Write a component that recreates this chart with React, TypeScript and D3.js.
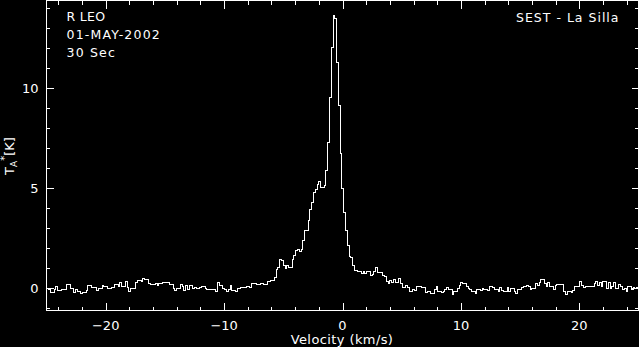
import { useEffect, useRef } from 'react';
import * as d3 from 'd3';

// velocity grid of the spectrometer (km/s)
const channelStart = -25.1;
const channelWidth = 0.15;

// antenna temperature per channel (K)
const antennaTemp = [
  -0.03, -0.03, -0.11, -0.25, -0.25, -0.08, 0.05, -0.15, -0.15, -0.11,
  -0.11, -0.11, 0.17, 0.17, -0.03, -0.03, -0.25, -0.08, -0.18, -0.18,
  -0.31, -0.25, -0.25, -0.15, 0.1, 0.1, 0.02, 0.02, 0.02, -0.15,
  -0.03, -0.03, 0.1, 0.08, 0.08, -0.03, -0.03, 0.02, 0.02, 0.17,
  0.17, 0.05, 0.25, 0.05, 0.05, 0.32, 0.02, -0.21, -0.03, -0.03,
  -0.03, 0.25, 0.38, 0.38, 0.32, 0.47, 0.42, 0.42, 0.22, 0.17,
  0.17, 0.17, 0.22, 0.13, 0.22, 0.22, 0.27, 0.27, 0.27, 0.27,
  0.17, 0.17, -0.05, -0.15, -0.05, -0.05, 0.17, 0.05, -0.15, 0.13,
  -0.11, 0.13, 0.13, -0.05, 0.0, -0.05, -0.05, 0.0, 0.05, 0.05,
  -0.03, -0.11, -0.11, -0.08, -0.11, -0.11, -0.18, 0.27, 0.13, 0.13,
  -0.03, -0.08, -0.18, -0.11, 0.13, -0.15, -0.15, -0.18, -0.03, -0.03,
  0.0, 0.0, 0.0, 0.05, 0.05, 0.0, 0.22, 0.22, 0.22, 0.17,
  0.17, 0.22, 0.22, 0.15, 0.15, 0.3, 0.3, 0.38, 0.38, 0.52,
  0.92, 1.02, 1.42, 1.35, 1.13, 0.97, 1.13, 1.02, 1.02, 1.42,
  1.63, 1.88, 1.92, 1.83, 1.92, 2.38, 2.88, 2.88, 3.38, 3.91,
  4.27, 4.74, 4.91, 5.17, 5.32, 5.0, 5.0, 5.12, 5.85, 7.25,
  9.5, 12.0, 13.63, 13.48, 11.27, 9.13, 6.72, 4.96, 3.74, 2.88,
  2.11, 1.58, 1.5, 1.1, 0.88, 0.88, 0.82, 0.83, 0.72, 0.8,
  0.72, 0.83, 0.83, 0.63, 0.66, 0.8, 1.02, 0.75, 0.75, 0.75,
  0.63, 0.55, 0.3, 0.22, 0.38, 0.24, 0.42, 0.24, 0.25, 0.47,
  0.22, 0.0, 0.0, 0.13, 0.0, -0.2, -0.2, -0.08, -0.16, 0.05,
  0.08, 0.08, 0.03, 0.03, -0.23, -0.2, -0.2, -0.28, -0.28, -0.11,
  0.05, -0.2, -0.2, -0.25, -0.2, -0.11, 0.0, -0.08, -0.08, -0.36,
  -0.2, -0.2, -0.03, 0.13, 0.25, 0.2, 0.2, 0.05, -0.03, -0.08,
  -0.2, -0.2, -0.28, -0.08, -0.08, -0.15, -0.03, -0.08, -0.08, -0.15,
  0.05, 0.05, 0.0, -0.11, -0.11, -0.2, 0.02, -0.15, -0.2, -0.2,
  0.0, -0.2, -0.03, -0.03, -0.2, -0.28, -0.11, -0.11, 0.02, 0.05,
  0.05, 0.13, 0.05, -0.11, -0.03, -0.03, 0.22, 0.13, 0.25, 0.42,
  0.42, 0.22, 0.05, 0.25, 0.05, 0.05, -0.11, 0.13, 0.17, 0.17,
  0.17, 0.17, -0.2, -0.36, -0.2, -0.2, -0.25, -0.15, 0.05, 0.08,
  0.08, 0.3, 0.13, 0.0, 0.05, 0.05, 0.08, 0.05, 0.05, 0.22,
  0.3, 0.13, 0.25, 0.05, 0.3, 0.3, -0.03, 0.25, -0.03, 0.05,
  0.25, -0.03, -0.03, 0.17, 0.05, -0.11, -0.03, -0.2, 0.05, 0.05,
  -0.08, 0.02, -0.03, 0.0, 0.0
];

const xMajorTicks = [-20, -10, 0, 10, 20];
const yMajorTicks = [0, 5, 10];
const headerLines = ['R LEO', '01-MAY-2002', '30 Sec'];
const telescopeLabel = 'SEST - La Silla';

const WIDTH = 639;
const HEIGHT = 347;
const FONT = '"DejaVu Sans", sans-serif';

export default function App() {
  const svgRef = useRef<SVGSVGElement>(null);

  useEffect(() => {
    const node = svgRef.current;
    if (!node) return;
    const svg = d3.select(node);
    svg.selectAll('*').remove();

    const left = 46.5;
    const right = 638.5;
    const top = 0.5;
    const bottom = 310.5;

    const x = d3.scaleLinear().domain([-25, 25]).range([left, right]);
    const y = d3.scaleLinear().domain([-1.14, 14.36]).range([bottom, top]);

    svg.append('rect').attr('width', WIDTH).attr('height', HEIGHT).attr('fill', '#000');

    svg
      .append('clipPath')
      .attr('id', 'plot-clip')
      .append('rect')
      .attr('x', left)
      .attr('y', top)
      .attr('width', right - left)
      .attr('height', bottom - top);

    // spectrum as a histogram
    const points: [number, number][] = antennaTemp.map((t, i) => [channelStart + i * channelWidth, t]);
    points.push([channelStart + antennaTemp.length * channelWidth, antennaTemp[antennaTemp.length - 1]]);

    const line = d3
      .line<[number, number]>()
      .x((d) => x(d[0]))
      .y((d) => y(d[1]))
      .curve(d3.curveStepAfter);

    svg
      .append('path')
      .attr('clip-path', 'url(#plot-clip)')
      .attr('d', line(points))
      .attr('fill', 'none')
      .attr('stroke', '#fff')
      .attr('stroke-width', 1)
      .attr('shape-rendering', 'crispEdges');

    // frame
    svg
      .append('rect')
      .attr('x', left)
      .attr('y', top)
      .attr('width', right - left)
      .attr('height', bottom - top)
      .attr('fill', 'none')
      .attr('stroke', '#fff')
      .attr('stroke-width', 1)
      .attr('shape-rendering', 'crispEdges');

    const ticks = svg.append('g').attr('stroke', '#fff').attr('shape-rendering', 'crispEdges');

    const xMinor = d3.range(-24, 25, 2);
    const xLen = (v: number) => (xMajorTicks.includes(v) ? 8 : 4);
    ticks
      .selectAll('.xb')
      .data(xMinor)
      .join('line')
      .attr('x1', (d) => Math.round(x(d)) + 0.5)
      .attr('x2', (d) => Math.round(x(d)) + 0.5)
      .attr('y1', bottom)
      .attr('y2', (d) => bottom - xLen(d));
    ticks
      .selectAll('.xt')
      .data(xMinor)
      .join('line')
      .attr('x1', (d) => Math.round(x(d)) + 0.5)
      .attr('x2', (d) => Math.round(x(d)) + 0.5)
      .attr('y1', top)
      .attr('y2', (d) => top + xLen(d));

    const yMinor = d3.range(-1, 15, 1);
    const yLen = (v: number) => (yMajorTicks.includes(v) ? 7 : 3.5);
    ticks
      .selectAll('.yl')
      .data(yMinor)
      .join('line')
      .attr('y1', (d) => Math.round(y(d)) + 0.5)
      .attr('y2', (d) => Math.round(y(d)) + 0.5)
      .attr('x1', left)
      .attr('x2', (d) => left + yLen(d));
    ticks
      .selectAll('.yr')
      .data(yMinor)
      .join('line')
      .attr('y1', (d) => Math.round(y(d)) + 0.5)
      .attr('y2', (d) => Math.round(y(d)) + 0.5)
      .attr('x1', right)
      .attr('x2', (d) => right - yLen(d));

    const fmt = d3.format('d');
    const labels = svg.append('g').attr('fill', '#fff').attr('font-family', FONT);

    labels
      .selectAll('.xl')
      .data(xMajorTicks)
      .join('text')
      .attr('x', (d) => x(d))
      .attr('y', 329.5)
      .attr('text-anchor', 'middle')
      .attr('font-size', 13)
      .text((d) => fmt(d));

    labels
      .selectAll('.ylab')
      .data(yMajorTicks)
      .join('text')
      .attr('x', 38.5)
      .attr('y', (d) => y(d) + 4.8)
      .attr('text-anchor', 'end')
      .attr('font-size', 13)
      .text((d) => fmt(d));

    labels
      .append('text')
      .attr('x', 342)
      .attr('y', 344)
      .attr('text-anchor', 'middle')
      .attr('font-size', 13)
      .attr('letter-spacing', 0.4)
      .text('Velocity (km/s)');

    const yTitle = labels
      .append('text')
      .attr('transform', 'translate(14,156) rotate(-90)')
      .attr('text-anchor', 'middle')
      .attr('font-size', 13);
    yTitle.append('tspan').text('T');
    yTitle.append('tspan').attr('font-size', 9).attr('dy', 3).text('A');
    yTitle.append('tspan').attr('font-size', 10).attr('dy', -9).text('*');
    yTitle.append('tspan').attr('dy', 6).text('[K]');

    labels
      .selectAll('.hdr')
      .data(headerLines)
      .join('text')
      .attr('x', 66.5)
      .attr('y', (d, i) => 21 + i * 17.8)
      .attr('font-size', 12.5)
      .attr('letter-spacing', (d, i) => (i === 0 ? 0.3 : 1.2))
      .text((d) => d);

    labels
      .append('text')
      .attr('x', 619.5)
      .attr('y', 21.5)
      .attr('text-anchor', 'end')
      .attr('font-size', 12.5)
      .attr('letter-spacing', 1)
      .text(telescopeLabel);
  }, []);

  return (
    <svg
      ref={svgRef}
      width={WIDTH}
      height={HEIGHT}
      style={{ position: 'absolute', left: 0, top: 0, display: 'block' }}
    />
  );
}
